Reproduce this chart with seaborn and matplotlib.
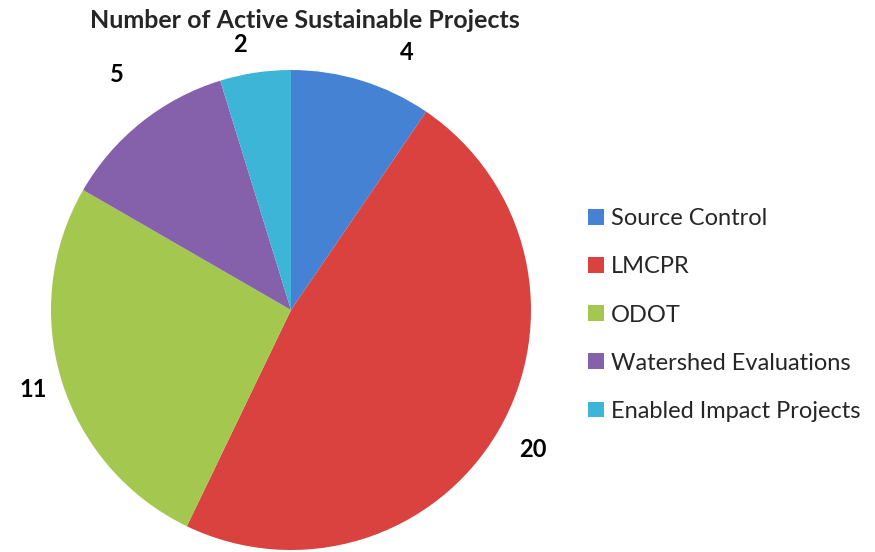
import matplotlib
matplotlib.use('Agg')
import matplotlib.pyplot as plt
import numpy as np
import seaborn as sns

# Data
categories = ['Source Control', 'LMCPR', 'ODOT', 'Watershed Evaluations', 'Enabled Impact Projects']
counts = [4, 20, 11, 5, 2]
slice_colors = ['#4682D4', '#D9423F', '#A3C74F', '#8561AB', '#3DB5D6']

# label placement (outside end, as in the original): radius and angle nudge per slice
label_radius = [1.175, 1.165, 1.125, 1.22, 1.125]
label_nudge = [-7, 0, 0, -2, 2.4]

sns.set_theme(style='white')
plt.rcParams['font.family'] = ['Lato', 'DejaVu Sans']

fig = plt.figure(figsize=(8.75, 5.52), dpi=100)
ax = fig.add_axes([51 / 875, 2 / 552, 480 / 875, 480 / 552])

wedges, texts = ax.pie(
    counts,
    labels=[str(c) for c in counts],
    colors=slice_colors,
    startangle=90,
    counterclock=False,
    radius=1.0,
    wedgeprops={'linewidth': 0},
    textprops={'fontsize': 17, 'fontweight': 'bold', 'color': 'black'},
)
for w, t, r, d in zip(wedges, texts, label_radius, label_nudge):
    ang = np.deg2rad((w.theta1 + w.theta2) / 2 + d)
    t.set_position((r * np.cos(ang), r * np.sin(ang)))
    t.set_ha('center')
    t.set_va('center')
    t.set_clip_on(False)

ax.set_xlim(-1, 1)
ax.set_ylim(-1, 1)
ax.set_aspect('auto')
ax.axis('off')

fig.text(305 / 875, 1 - 20 / 552, 'Number of Active Sustainable Projects',
         ha='center', va='center', fontsize=18, fontweight='bold')

leg = fig.legend(
    wedges, categories,
    loc='center left',
    bbox_to_anchor=(567 / 875, 1 - 315 / 552),
    frameon=False,
    fontsize=17,
    handlelength=0.65,
    handleheight=0.65,
    handletextpad=0.3,
    labelspacing=1.15,
)

fig.savefig('out.png', dpi=100)
